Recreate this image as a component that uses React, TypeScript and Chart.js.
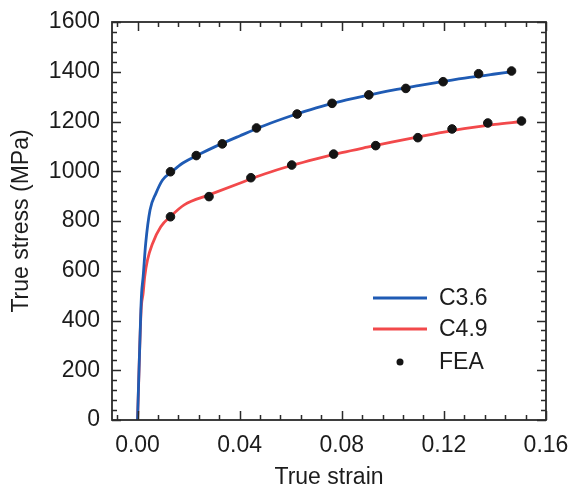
import React, { useEffect, useRef } from "react";
import { Chart, registerables } from "chart.js";

Chart.register(...registerables);

// ---- data ----
const xTickValues = [0, 0.04, 0.08, 0.12, 0.16];
const yTickValues = [0, 200, 400, 600, 800, 1000, 1200, 1400, 1600];

const c36Strain = [0, 0.0013, 0.0016, 0.0022, 0.0032, 0.0049, 0.0072, 0.0098, 0.0131, 0.0176, 0.025, 0.03, 0.04, 0.05, 0.06, 0.07, 0.08, 0.09, 0.1, 0.11, 0.12, 0.13, 0.14, 0.146];
const c36Stress = [0, 440, 510, 576, 710, 844, 911, 965, 995, 1032, 1072, 1097, 1142, 1185, 1222, 1255, 1282, 1305, 1326, 1344, 1361, 1377, 1391, 1399];

const c49Strain = [0, 0.0014, 0.0022, 0.0028, 0.0039, 0.0059, 0.0091, 0.0131, 0.0183, 0.028, 0.04, 0.05, 0.06, 0.07, 0.08, 0.09, 0.1, 0.11, 0.12, 0.13, 0.14, 0.15];
const c49Stress = [0, 440, 510, 576, 643, 710, 777, 820, 865, 905, 952, 990, 1022, 1050, 1075, 1097, 1118, 1138, 1157, 1174, 1188, 1199];

const feaC36Strain = [0.0129, 0.023, 0.0332, 0.0466, 0.0625, 0.0762, 0.0906, 0.1051, 0.1197, 0.1336, 0.1465];
const feaC36Stress = [998, 1063, 1110, 1174, 1230, 1273, 1307, 1333, 1360, 1392, 1403];

const feaC49Strain = [0.0129, 0.028, 0.0444, 0.0604, 0.0768, 0.0933, 0.1098, 0.1232, 0.1372, 0.1504];
const feaC49Stress = [817, 898, 974, 1025, 1069, 1103, 1135, 1170, 1194, 1202];

const legendLabels = ["C3.6", "C4.9", "FEA"];

// ---- styles ----
const BLUE = "#1f5bb4";
const RED = "#f2494b";
const DOT = "#141414";
const AXIS = "#2a2a2a";
const TEXT = "#1c1c1c";
const FAMILY = '"Liberation Sans", Arial, sans-serif';
const FONT = { family: FAMILY, size: 23 };

const toPts = (xs: number[], ys: number[]) => xs.map((x, i) => ({ x, y: ys[i] }));

const framePlugin = {
  id: "frameTicks",
  afterDraw(chart: any) {
    const { ctx, chartArea } = chart;
    const { left, right, top, bottom } = chartArea;
    const xs = chart.scales.x;
    const ys = chart.scales.y;
    ctx.save();
    ctx.strokeStyle = AXIS;
    ctx.lineWidth = 1.8;
    ctx.strokeRect(left, top, right - left, bottom - top);
    ctx.lineWidth = 1.5;
    ctx.beginPath();
    for (let i = -1; i <= 20; i++) {
      const v = i * 0.008;
      const px = Math.round(xs.getPixelForValue(v)) + 0.5;
      const len = i % 5 === 0 ? 9 : 5;
      ctx.moveTo(px, bottom);
      ctx.lineTo(px, bottom - len);
      ctx.moveTo(px, top);
      ctx.lineTo(px, top + len);
    }
    for (let i = 0; i <= 40; i++) {
      const v = i * 40;
      const py = Math.round(ys.getPixelForValue(v)) + 0.5;
      const len = i % 5 === 0 ? 9 : 5;
      ctx.moveTo(left, py);
      ctx.lineTo(left + len, py);
      ctx.moveTo(right, py);
      ctx.lineTo(right - len, py);
    }
    ctx.stroke();

    // legend
    const lx0 = right - 173;
    const lx1 = right - 119;
    const tx = right - 107;
    const rows = [top + 276, top + 307, top + 340];
    ctx.lineWidth = 3;
    ctx.strokeStyle = BLUE;
    ctx.beginPath();
    ctx.moveTo(lx0, rows[0]);
    ctx.lineTo(lx1, rows[0]);
    ctx.stroke();
    ctx.strokeStyle = RED;
    ctx.beginPath();
    ctx.moveTo(lx0, rows[1]);
    ctx.lineTo(lx1, rows[1]);
    ctx.stroke();
    ctx.fillStyle = DOT;
    ctx.beginPath();
    ctx.arc((lx0 + lx1) / 2, rows[2], 3.5, 0, Math.PI * 2);
    ctx.fill();
    ctx.fillStyle = TEXT;
    ctx.font = `23px ${FAMILY}`;
    ctx.textAlign = "left";
    ctx.textBaseline = "middle";
    legendLabels.forEach((t, i) => ctx.fillText(t, tx, rows[i] + 1));
    ctx.restore();
  },
};

export default function App() {
  const ref = useRef<HTMLCanvasElement | null>(null);

  useEffect(() => {
    if (!ref.current) return;
    const chart = new Chart(ref.current, {
      type: "scatter",
      data: {
        datasets: [
          {
            label: "FEA C3.6",
            data: toPts(feaC36Strain, feaC36Stress),
            backgroundColor: DOT,
            borderColor: DOT,
            pointRadius: 4.3,
            showLine: false,
          },
          {
            label: "FEA C4.9",
            data: toPts(feaC49Strain, feaC49Stress),
            backgroundColor: DOT,
            borderColor: DOT,
            pointRadius: 4.3,
            showLine: false,
          },
          {
            label: "C3.6",
            data: toPts(c36Strain, c36Stress),
            borderColor: BLUE,
            backgroundColor: BLUE,
            borderWidth: 2.8,
            pointRadius: 0,
            showLine: true,
            cubicInterpolationMode: "monotone",
          },
          {
            label: "C4.9",
            data: toPts(c49Strain, c49Stress),
            borderColor: RED,
            backgroundColor: RED,
            borderWidth: 2.8,
            pointRadius: 0,
            showLine: true,
            cubicInterpolationMode: "monotone",
          },
        ],
      },
      options: {
        responsive: false,
        animation: false,
        layout: { padding: { top: 22, right: 25, left: 0, bottom: 0 } },
        plugins: { legend: { display: false }, tooltip: { enabled: false } },
        scales: {
          x: {
            type: "linear",
            min: -0.01,
            max: 0.16,
            afterBuildTicks: (s: any) => {
              s.ticks = xTickValues.map((v) => ({ value: v }));
            },
            afterFit: (s: any) => {
              s.height = 71;
              s.paddingLeft = 0;
              s.paddingRight = 0;
            },
            grid: { display: false, drawTicks: false },
            border: { display: false },
            ticks: {
              padding: 12,
              font: FONT,
              color: TEXT,
              maxRotation: 0,
              autoSkip: false,
              callback: (v: any) => Number(v).toFixed(2),
            },
            title: {
              display: true,
              text: "True strain",
              font: FONT,
              color: TEXT,
              padding: { top: 0, bottom: 0 },
            },
          },
          y: {
            type: "linear",
            min: 0,
            max: 1600,
            afterBuildTicks: (s: any) => {
              s.ticks = yTickValues.map((v) => ({ value: v }));
            },
            afterFit: (s: any) => {
              s.width = 112;
              s.paddingTop = 0;
              s.paddingBottom = 0;
            },
            grid: { display: false, drawTicks: false },
            border: { display: false },
            ticks: {
              padding: 12,
              font: FONT,
              color: TEXT,
              autoSkip: false,
              callback: (v: any) => String(v),
            },
            title: {
              display: true,
              text: "True stress (MPa)",
              font: FONT,
              color: TEXT,
              padding: { top: 8, bottom: 0 },
            },
          },
        },
      } as any,
      plugins: [framePlugin],
    });
    return () => chart.destroy();
  }, []);

  return (
    <div style={{ position: "absolute", left: 0, top: 0, width: 571, height: 491, background: "#fff" }}>
      <canvas ref={ref} width={571} height={491} style={{ display: "block" }} />
    </div>
  );
}
